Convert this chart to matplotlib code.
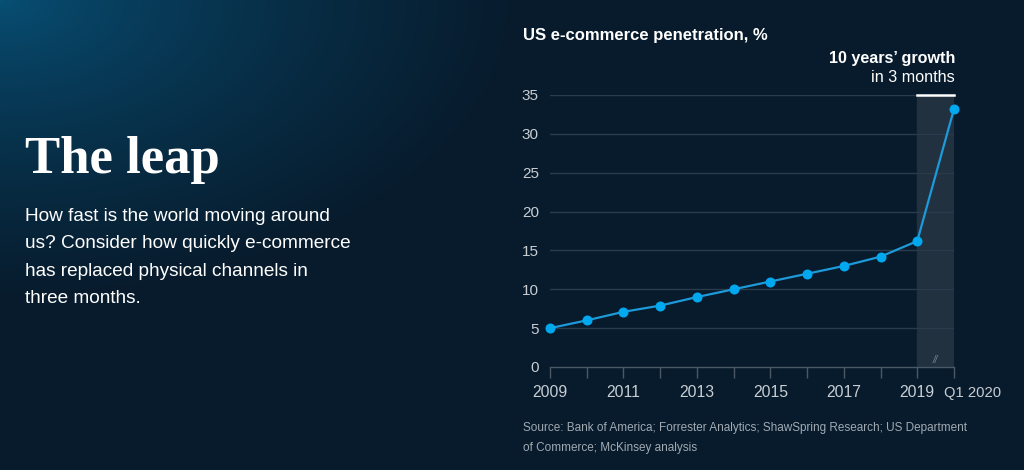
import numpy as np
import matplotlib
matplotlib.use("Agg")
import matplotlib.pyplot as plt
from matplotlib.transforms import ScaledTranslation

# data
periods = ["2009", "2010", "2011", "2012", "2013", "2014", "2015",
           "2016", "2017", "2018", "2019", "Q1 2020"]
penetration = [5.0, 6.0, 7.1, 7.9, 9.0, 10.0, 11.0, 12.0, 13.0, 14.2, 16.2, 33.2]
shown_labels = ["2009", "2011", "2013", "2015", "2017", "2019", "Q1 2020"]
y_ticks = [0, 5, 10, 15, 20, 25, 30, 35]

BG_DARK = np.array([7, 27, 44]) / 255.
BG_LIGHT = np.array([8, 80, 118]) / 255.
SANS = ["Liberation Sans", "DejaVu Sans"]

W, H = 1024, 470
fig = plt.figure(figsize=(W / 100, H / 100), dpi=100)

# background gradient, lighter in the top-left corner
bg = fig.add_axes([0, 0, 1, 1], zorder=-10)
xx, yy = np.meshgrid(np.arange(W), np.arange(H))
t = np.clip(np.sqrt((xx / 520.) ** 2 + (yy / 300.) ** 2), 0, 1) ** 0.75
img = BG_LIGHT[None, None, :] * (1 - t[..., None]) + BG_DARK[None, None, :] * t[..., None]
bg.imshow(img, aspect="auto", extent=[0, 1, 0, 1], origin="upper")
bg.axis("off")

# left-hand story text
fig.text(25 / W, 1 - 173 / H, "The leap", family=["Liberation Serif", "DejaVu Serif"],
         fontsize=38, weight="bold", color="white", va="baseline")
body = ["How fast is the world moving around",
        "us? Consider how quickly e-commerce",
        "has replaced physical channels in",
        "three months."]
for i, line in enumerate(body):
    fig.text(25 / W, 1 - (221 + 27.3 * i) / H, line, family=SANS, fontsize=13.7,
             color="white", va="baseline")

# chart
ax = fig.add_axes([550 / W, 1 - 367 / H, 404 / W, 272 / H])
ax.set_facecolor("none")
x = np.arange(len(periods))
ax.set_xlim(0, len(periods) - 1)
ax.set_ylim(0, 35)

for y in y_ticks[1:]:
    ax.axhline(y, color="#2a3b4b", lw=1, zorder=1)
ax.axvspan(x[-2], x[-1], ymin=0, ymax=1, color="#213140", zorder=0)
ax.plot([x[-2], x[-1]], [35, 35], color="white", lw=1.8, zorder=3, clip_on=False)
ax.text((x[-2] + x[-1]) / 2, 0.2, "//", color="#7d8893", fontsize=7,
        style="italic", ha="center", va="bottom", family=SANS)

ax.plot(x, penetration, color="#1d9ad9", lw=1.6, marker="o", markersize=6.2,
        markerfacecolor="#00a8f0", markeredgecolor="#00a8f0", zorder=4, clip_on=False)

for s in ["top", "right", "left"]:
    ax.spines[s].set_visible(False)
ax.spines["bottom"].set_color("#4b5966")
ax.spines["bottom"].set_linewidth(1)

ax.set_yticks(y_ticks)
ax.tick_params(axis="y", length=0, pad=8, labelcolor="#c9ced3", labelsize=11)
ax.set_xticks(x)
ax.set_xticklabels([p if p in shown_labels else "" for p in periods])
ax.tick_params(axis="x", length=8, width=1, color="#4b5966", pad=5,
               labelcolor="#c9ced3", labelsize=11.3)
for lab in ax.get_xticklabels() + ax.get_yticklabels():
    lab.set_family(SANS)
# the last label sits to the right of its tick
last = ax.get_xticklabels()[-1]
last.set_horizontalalignment("left")
last.set_fontsize(10.6)
last.set_transform(last.get_transform() + ScaledTranslation(-10 / 100, -0.6 / 100, fig.dpi_scale_trans))

# chart titles and notes
fig.text(523 / W, 1 - 40 / H, "US e-commerce penetration, %", family=SANS,
         fontsize=12, weight="bold", color="white", va="baseline")
fig.text(955 / W, 1 - 63 / H, "10 years\u2019 growth", family=SANS, fontsize=11.6,
         weight="bold", color="white", ha="right", va="baseline")
fig.text(955 / W, 1 - 82 / H, "in 3 months", family=SANS, fontsize=11.6,
         color="white", ha="right", va="baseline")
fig.text(523 / W, 1 - 431 / H,
         "Source: Bank of America; Forrester Analytics; ShawSpring Research; US Department",
         family=SANS, fontsize=8.5, color="#a2aab2", va="baseline")
fig.text(523 / W, 1 - 451 / H, "of Commerce; McKinsey analysis",
         family=SANS, fontsize=8.5, color="#a2aab2", va="baseline")

fig.savefig("out.png", dpi=100)
